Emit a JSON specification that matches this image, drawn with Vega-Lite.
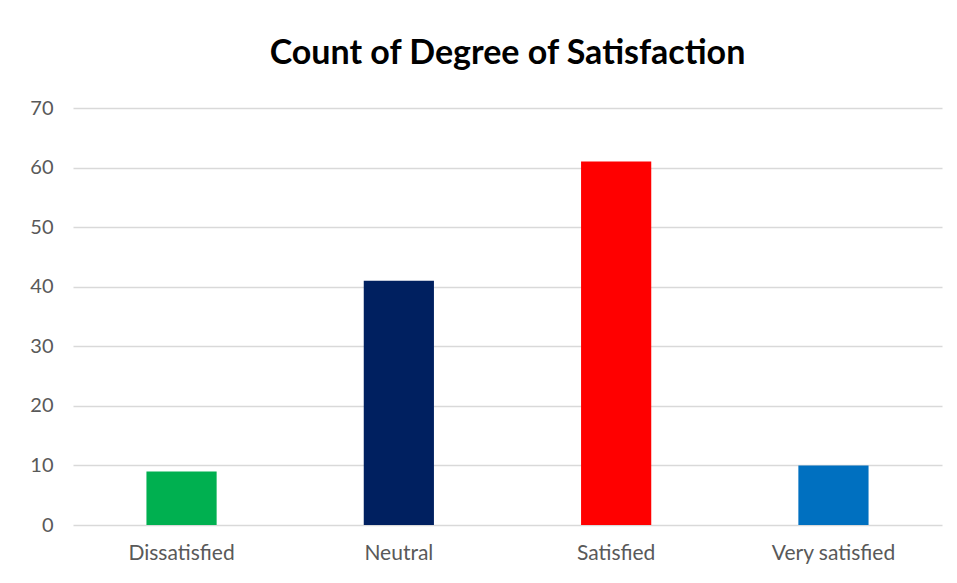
{
  "$schema": "https://vega.github.io/schema/vega-lite/v6.json",
  "width": 869,
  "height": 417,
  "autosize": {"type": "none"},
  "padding": {"left": 73, "top": 108, "right": 15, "bottom": 58},
  "background": "white",
  "title": {
    "text": "Count of Degree of Satisfaction",
    "font": "Lato",
    "fontSize": 34,
    "fontWeight": "bold",
    "color": "#000000",
    "anchor": "middle",
    "offset": 27
  },
  "data": {
    "values": [
      {"category": "Dissatisfied", "count": 9},
      {"category": "Neutral", "count": 41},
      {"category": "Satisfied", "count": 61},
      {"category": "Very satisfied", "count": 10}
    ]
  },
  "mark": {"type": "bar"},
  "encoding": {
    "x": {
      "field": "category",
      "type": "nominal",
      "sort": null,
      "title": null,
      "scale": {"paddingInner": 0.677, "paddingOuter": 0.338},
      "axis": {
        "labelAngle": 0,
        "domain": false,
        "ticks": false,
        "labelFont": "Lato",
        "labelFontSize": 21,
        "labelColor": "#595959",
        "labelPadding": 17
      }
    },
    "y": {
      "field": "count",
      "type": "quantitative",
      "title": null,
      "scale": {"domain": [0, 70], "nice": false},
      "axis": {
        "values": [0, 10, 20, 30, 40, 50, 60, 70],
        "domain": false,
        "ticks": false,
        "grid": true,
        "gridColor": "#d9d9d9",
        "gridWidth": 1.5,
        "labelFont": "Lato",
        "labelFontSize": 20,
        "labelColor": "#595959",
        "labelPadding": 20
      }
    },
    "color": {
      "field": "category",
      "type": "nominal",
      "legend": null,
      "scale": {
        "domain": ["Dissatisfied", "Neutral", "Satisfied", "Very satisfied"],
        "range": ["#00B050", "#002060", "#FF0000", "#0070C0"]
      }
    }
  },
  "config": {"view": {"stroke": null}}
}
